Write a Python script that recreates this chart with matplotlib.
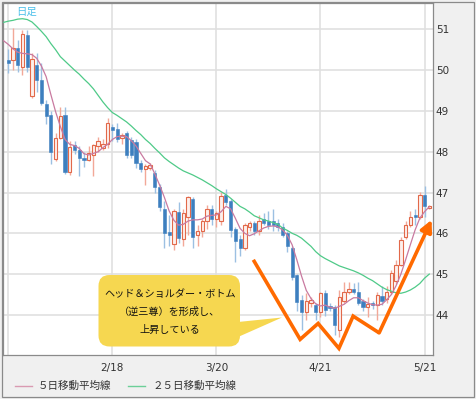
import numpy as np
import matplotlib.pyplot as plt
from matplotlib.patches import FancyBboxPatch, Polygon, Rectangle
from matplotlib.lines import Line2D
from matplotlib.transforms import IdentityTransform

W, H = 477, 399
JP = ['Noto Sans CJK JP', 'DejaVu Sans']

# daily candles (index 0 = 1/18 ... 89 = 5/22)
opens = [50.26, 50.25, 50.53, 50.07, 50.86, 49.36, 50.12, 49.76, 49.17, 48.90,
         47.81, 48.33, 48.90, 47.51, 48.16, 48.04, 47.85, 47.80, 47.92, 48.14,
         48.10, 48.19, 48.60, 48.55, 48.33, 48.45, 48.28, 48.24, 47.72, 47.57,
         47.60, 47.47, 47.14, 46.60, 46.04, 45.75, 46.52, 45.85, 46.40, 46.85,
         45.95, 46.05, 46.30, 46.60, 46.35, 46.30, 46.94, 46.80, 46.10, 45.85,
         45.65, 46.15, 46.25, 46.05, 46.35, 46.30, 46.30, 46.25, 46.15, 46.00,
         45.63, 44.98, 44.37, 44.08, 44.28, 44.25, 44.08, 44.53, 44.22, 44.20,
         43.63, 44.33, 44.55, 44.63, 44.57, 44.33, 44.19, 44.29, 44.25, 44.47,
         44.38, 44.57, 44.83, 45.22, 45.90, 46.20, 46.45, 46.40, 46.94, 46.62]
highs = [50.51, 51.02, 50.74, 50.98, 50.98, 50.42, 50.41, 50.17, 49.27, 49.00,
         48.45, 49.09, 49.10, 48.27, 48.27, 48.14, 47.99, 48.15, 48.19, 48.35,
         48.30, 48.82, 48.68, 48.70, 48.45, 48.50, 48.35, 48.30, 47.80, 47.70,
         47.72, 47.55, 47.20, 46.80, 46.45, 46.60, 46.77, 46.60, 46.92, 46.90,
         46.20, 46.35, 46.70, 46.70, 46.55, 47.02, 47.08, 46.85, 46.15, 45.95,
         46.25, 46.30, 46.30, 46.45, 46.50, 46.55, 46.60, 46.35, 46.25, 46.05,
         45.70, 45.00, 44.49, 44.54, 44.45, 44.30, 44.57, 44.60, 44.30, 44.25,
         44.61, 44.80, 44.80, 44.78, 44.81, 44.40, 44.45, 44.35, 44.55, 44.70,
         44.70, 45.10, 45.35, 45.90, 46.30, 46.55, 46.60, 47.02, 47.16, 46.70]
lows = [49.92, 50.00, 49.96, 49.88, 49.96, 49.32, 49.47, 49.14, 48.68, 47.70,
        47.78, 48.30, 47.45, 47.43, 47.95, 47.40, 47.63, 47.78, 47.40, 48.00,
        48.05, 48.10, 48.27, 48.25, 48.20, 47.85, 47.85, 47.60, 47.50, 47.18,
        47.55, 46.99, 46.55, 45.63, 45.70, 45.60, 45.76, 45.70, 45.95, 45.65,
        45.70, 45.90, 46.10, 46.20, 46.15, 46.20, 46.70, 45.90, 45.30, 45.45,
        45.60, 46.05, 45.95, 45.95, 46.20, 46.10, 46.05, 46.05, 45.90, 45.55,
        44.85, 44.10, 43.63, 43.87, 44.20, 43.87, 43.96, 43.97, 44.10, 43.50,
        43.47, 44.30, 44.50, 44.50, 44.25, 44.10, 43.95, 44.15, 43.87, 44.25,
        44.30, 44.50, 44.75, 45.20, 45.85, 46.15, 46.20, 46.35, 46.41, 46.60]
closes = [50.17, 50.54, 50.12, 50.88, 50.07, 50.27, 49.76, 49.20, 48.87, 48.00,
          48.33, 48.88, 47.51, 48.12, 48.04, 47.85, 47.80, 47.98, 48.16, 48.27,
          48.20, 48.70, 48.53, 48.30, 48.41, 47.92, 47.92, 47.72, 47.57, 47.65,
          47.68, 47.14, 46.65, 46.00, 45.96, 46.55, 45.88, 46.50, 46.88, 45.90,
          46.05, 46.30, 46.60, 46.35, 46.50, 46.92, 46.77, 46.07, 45.80, 45.65,
          46.20, 46.25, 46.05, 46.30, 46.25, 46.20, 46.20, 46.15, 45.95, 45.70,
          44.94, 44.32, 44.08, 44.33, 44.37, 44.08, 44.53, 44.12, 44.16, 43.75,
          44.45, 44.57, 44.63, 44.57, 44.29, 44.19, 44.27, 44.25, 44.49, 44.33,
          44.57, 45.02, 45.22, 45.83, 46.20, 46.40, 46.41, 46.94, 46.66, 46.66]

# moving averages, index -1 .. 89
ma5 = [50.72, 50.63, 50.52, 50.44, 50.41, 50.40, 50.38, 50.29, 50.10, 49.84, 49.40,
       48.98, 48.62, 48.30, 48.18, 48.15, 48.08, 47.95, 47.92, 47.96, 48.00,
       48.10, 48.18, 48.30, 48.37, 48.38, 48.37, 48.27, 48.14, 47.96, 47.78,
       47.70, 47.45, 47.18, 46.88, 46.55, 46.32, 46.20, 46.22, 46.30, 46.33,
       46.33, 46.35, 46.42, 46.44, 46.45, 46.53, 46.66, 46.60, 46.37, 46.12,
       46.00, 45.94, 45.99, 46.06, 46.13, 46.17, 46.18, 46.16, 46.08, 45.95,
       45.72, 45.35, 44.95, 44.60, 44.40, 44.27, 44.22, 44.24, 44.19, 44.16,
       44.21, 44.26, 44.35, 44.42, 44.42, 44.35, 44.29, 44.25, 44.24, 44.26,
       44.37, 44.50, 44.72, 45.00, 45.35, 45.72, 46.08, 46.37, 46.53, 46.65]
ma25 = [51.17, 51.20, 51.22, 51.25, 51.26, 51.24, 51.18, 51.07, 50.95, 50.82, 50.65,
        50.50, 50.33, 50.22, 50.11, 50.00, 49.90, 49.78, 49.67, 49.54, 49.38,
        49.22, 49.08, 48.96, 48.89, 48.81, 48.73, 48.63, 48.52, 48.42, 48.30,
        48.20, 48.08, 47.97, 47.85, 47.76, 47.68, 47.60, 47.53, 47.48, 47.43,
        47.37, 47.31, 47.24, 47.17, 47.09, 47.02, 46.95, 46.86, 46.76, 46.66,
        46.60, 46.52, 46.43, 46.38, 46.33, 46.30, 46.26, 46.22, 46.13, 46.07,
        46.00, 45.95, 45.88, 45.78, 45.68, 45.55, 45.45, 45.38, 45.32, 45.26,
        45.20, 45.16, 45.12, 45.08, 45.03, 44.97, 44.90, 44.84, 44.76, 44.68,
        44.62, 44.58, 44.54, 44.53, 44.56, 44.61, 44.68, 44.77, 44.90, 45.00]

month_idx = [0, 22, 44, 66, 88]
month_lbl = ['', '2/18', '3/20', '4/21', '5/21']
price_ticks = [44, 45, 46, 47, 48, 49, 50, 51]

# hand-drawn W pattern (index, price)
zig_x = [51.8, 61.7, 65.5, 69.9, 72.9, 78.4]
zig_y = [45.35, 43.40, 43.79, 43.18, 43.97, 43.56]
arrow_tip = (89.5, 46.33)

fig = plt.figure(figsize=(W / 100, H / 100), dpi=100)
fig.patch.set_facecolor('#f0f0f0')
ax = fig.add_axes([3 / W, 44 / H, 430 / W, 352 / H])
ax.set_facecolor('white')

o = np.array(opens); c = np.array(closes)
hi = np.array(highs); lo = np.array(lows)
x = np.arange(len(o))
up = c >= o

ax.vlines(x[up], lo[up], hi[up], color='#f2a898', lw=1.0, zorder=2)
ax.vlines(x[~up], lo[~up], hi[~up], color='#9cc0e2', lw=1.0, zorder=2)
bot = np.minimum(o, c)
hgt = np.maximum(np.abs(c - o), 0.03)
ax.bar(x[up], hgt[up], bottom=bot[up], width=0.72, color='#fdf0ec',
       edgecolor='#e2694a', linewidth=0.8, zorder=3)
ax.bar(x[~up], hgt[~up], bottom=bot[~up], width=0.66, color='#3d7fbf',
       edgecolor='#3d7fbf', linewidth=0.4, zorder=3)

xm = np.arange(-1, len(o))
ax.plot(xm, ma25, color='#4fca88', lw=0.9, zorder=4)
ax.plot(xm, ma5, color='#c97aa0', lw=0.9, zorder=4)

ax.set_xlim((3 - 8.3) / 4.73, (433 - 8.3) / 4.73)
ax.set_ylim(43.017, 51.645)

ax.set_yticks(price_ticks)
ax.set_xticks(month_idx)
ax.set_xticklabels(month_lbl)
ax.yaxis.tick_right()
ax.tick_params(axis='both', length=0, labelsize=7.5, colors='#333333')
ax.tick_params(axis='y', pad=2)
ax.tick_params(axis='x', pad=6)
ax.grid(color='#e0e0e0', lw=1.2, zorder=0)
ax.set_axisbelow(True)
for s in ax.spines.values():
    s.set_color('#8a8a8a')
    s.set_linewidth(0.9)

# W pattern + arrow
ax.plot(zig_x, zig_y, color='#ff6a00', lw=2.6, solid_joinstyle='miter',
        solid_capstyle='butt', zorder=6)
ax.annotate('', xy=arrow_tip, xytext=(zig_x[-1], zig_y[-1]),
            arrowprops=dict(arrowstyle='-|>,head_length=0.7,head_width=0.35',
                            color='#ff6a00', lw=2.6, shrinkA=0, shrinkB=0),
            zorder=6)

# callout box
ident = IdentityTransform()
box = FancyBboxPatch((98.5, H - 346.5), 141.5, 71.5,
                     boxstyle='round,pad=0,rounding_size=11',
                     fc='#f6d750', ec='none', transform=ident, zorder=7)
fig.add_artist(box)
tail = Polygon([(238, H - 322), (282, H - 317.5), (238, H - 337)],
               closed=True, fc='#f6d750', ec='none', transform=ident, zorder=7)
fig.add_artist(tail)
for t, yy in [('ヘッド＆ショルダー・ボトム', 294), ('（逆三尊）を形成し、', 312),
              ('上昇している', 329.5)]:
    fig.text(170 / W, 1 - yy / H, t, ha='center', va='center', fontsize=7.3,
             family=JP, color='#111111', zorder=8)

fig.text(16 / W, 1 - 12 / H, '日足', ha='left', va='center', fontsize=7.5,
         family=JP, color='#4cc0ea')

# legend
fig.add_artist(Line2D([15 / W, 32 / W], [1 - 386 / H] * 2, color='#d99ab2', lw=1.0))
fig.text(38 / W, 1 - 386 / H, '５日移動平均線', ha='left', va='center',
         fontsize=7.6, family=JP, color='#333333')
fig.add_artist(Line2D([128 / W, 145 / W], [1 - 386 / H] * 2, color='#6ccf98', lw=1.0))
fig.text(153 / W, 1 - 386 / H, '２５日移動平均線', ha='left', va='center',
         fontsize=7.6, family=JP, color='#333333')

# outer frame
fig.add_artist(Rectangle((2 / W, 2 / H), 472 / W, 395 / H, transform=fig.transFigure,
                         fill=False, ec='#8a8a8a', lw=0.9))

fig.savefig('out.png', dpi=100, facecolor=fig.get_facecolor())
